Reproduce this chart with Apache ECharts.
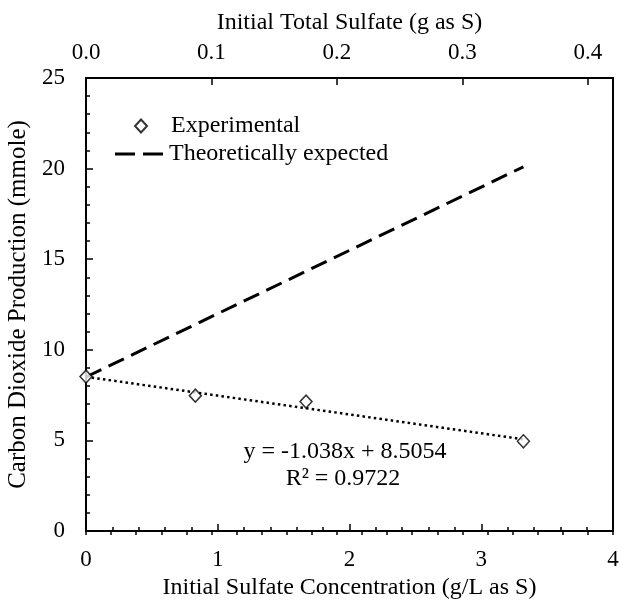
<!DOCTYPE html>
<html>
<head>
<meta charset="utf-8">
<script src="https://cdn.jsdelivr.net/npm/echarts@6/dist/echarts.min.js"></script>
<style>html,body{margin:0;padding:0;background:#fff;}#c{width:621px;height:604px;}</style>
</head>
<body>
<div id="c"></div>
<script>
// Data
const expX = [0, 0.83, 1.67, 3.32];
const expY = [8.52, 7.47, 7.14, 4.95];
const theoX = [0, 3.32];
const theoY = [8.5, 20.1];
const trendX = [0, 3.32];
const trendY = [8.51, 5.06];
const eqText = 'y = -1.038x + 8.5054';
const r2Text = 'R² = 0.9722';
const bottomTitle = 'Initial Sulfate Concentration (g/L as S)';
const topTitle = 'Initial Total Sulfate (g as S)';
const leftTitle = 'Carbon Dioxide Production (mmole)';
const seriesNames = ['Experimental', 'Theoretically expected'];

const FONT = 'Liberation Serif';
const zip = (a, b) => a.map((v, i) => [v, b[i]]);

const chart = echarts.init(document.getElementById('c'));
const axisCommon = {
  axisLine: {show: true, onZero: false, lineStyle: {color: '#000', width: 2}},
  splitLine: {show: false},
  axisLabel: {color: '#000', fontFamily: FONT, fontSize: 23},
  nameTextStyle: {color: '#000', fontFamily: FONT, fontSize: 24}
};
const legendText = {color: '#000', fontFamily: FONT, fontSize: 24};
chart.setOption({
  animation: false,
  grid: {left: 86, right: 8, top: 78, bottom: 73, containLabel: false, outerBoundsMode: 'none',
         show: true, borderColor: '#000', borderWidth: 2, backgroundColor: 'transparent'},
  legend: [
    {
      left: 129, top: 109, padding: 5, itemWidth: 12, itemHeight: 13,
      textStyle: Object.assign({padding: [0, 0, 0, 19]}, legendText),
      data: [{name: seriesNames[0], icon: 'diamond'}]
    },
    {
      left: 110, top: 137, padding: 5, itemWidth: 48, itemHeight: 3,
      textStyle: Object.assign({padding: [0, 0, 0, 1]}, legendText),
      data: [{name: seriesNames[1], icon: 'path://M0,0h20v3h-20z M28,0h20v3h-20z', itemStyle: {color: '#000'}}]
    }
  ],
  xAxis: [
    Object.assign({}, axisCommon, {
      type: 'value', position: 'bottom', min: 0, max: 4, interval: 1,
      axisTick: {show: true, inside: true, length: 7, lineStyle: {color: '#000', width: 1.5}},
      minorTick: {show: true, splitNumber: 5, length: 4, lineStyle: {color: '#000', width: 1.5}},
      axisLabel: Object.assign({}, axisCommon.axisLabel, {margin: 17}),
      name: bottomTitle, nameLocation: 'middle', nameGap: 44
    }),
    Object.assign({}, axisCommon, {
      type: 'value', position: 'top', min: 0, max: 0.42, interval: 0.1,
      axisTick: {show: true, inside: true, length: 7, lineStyle: {color: '#000', width: 1.5}},
      axisLabel: Object.assign({}, axisCommon.axisLabel, {margin: 14, showMaxLabel: false, formatter: v => v.toFixed(1)}),
      name: topTitle, nameLocation: 'middle', nameGap: 43
    }),
    {
      type: 'value', position: 'top', min: 0, max: 0.42, interval: 0.02,
      axisLine: {show: false}, splitLine: {show: false}, axisLabel: {show: false},
      axisTick: {show: true, inside: true, length: 4, lineStyle: {color: '#000', width: 1.5}}
    }
  ],
  yAxis: Object.assign({}, axisCommon, {
    type: 'value', min: 0, max: 25, interval: 5,
    axisTick: {show: true, inside: true, length: 7, lineStyle: {color: '#000', width: 1.5}},
    minorTick: {show: true, splitNumber: 5, length: 4, lineStyle: {color: '#000', width: 1.5}},
    axisLabel: Object.assign({}, axisCommon.axisLabel, {margin: 21}),
    name: leftTitle, nameLocation: 'middle', nameGap: 52, nameRotate: 90,
    nameTextStyle: {color: '#000', fontFamily: FONT, fontSize: 25}
  }),
  series: [
    {
      name: 'trend', type: 'line', data: zip(trendX, trendY), symbol: 'none',
      lineStyle: {color: '#000', width: 2.5, type: [2.5, 3.2]}, z: 1
    },
    {
      name: seriesNames[1], type: 'line', data: zip(theoX, theoY), symbol: 'none',
      lineStyle: {color: '#000', width: 3, type: [17, 8]}, itemStyle: {color: '#000'}, z: 2
    },
    {
      name: seriesNames[0], type: 'scatter', data: zip(expX, expY), symbol: 'diamond', symbolSize: [12, 13],
      itemStyle: {color: '#fff', borderColor: '#000', borderWidth: 1.5}, z: 3
    }
  ],
  graphic: [
    {type: 'text', style: {text: eqText, x: 345, y: 452, align: 'center', verticalAlign: 'middle', fill: '#000', font: '24px "Liberation Serif"'}},
    {type: 'text', style: {text: r2Text, x: 343, y: 479, align: 'center', verticalAlign: 'middle', fill: '#000', font: '24px "Liberation Serif"'}}
  ]
});
</script>
</body>
</html>
